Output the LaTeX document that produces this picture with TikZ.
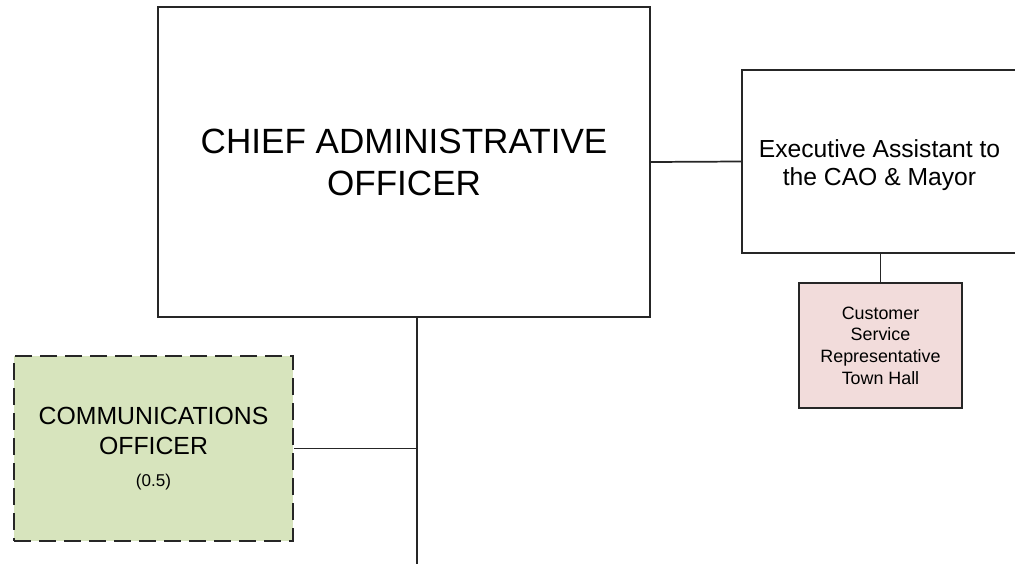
\documentclass[tikz,border=0pt]{standalone}
\usepackage{fontspec}
\setmainfont{Liberation Sans}
\begin{document}
\begin{tikzpicture}[x=0.75pt,y=-0.75pt,
  edge/.style={draw=black!85,line width=1.3pt},
  post/.style={draw=black!85,line width=1.1pt,fill=white,inner sep=0pt,align=center,anchor=center},
  vacant/.style={post,line width=1.5pt,dash pattern=on 12.75pt off 6pt},
]
\useasboundingbox (0,0) rectangle (1015,564);
\definecolor{greenfill}{HTML}{D7E4BD}
\definecolor{pinkfill}{HTML}{F2DCDB}

% boxes
\node[post,minimum width=369pt,minimum height=232.5pt,
      font=\fontsize{26.3}{31.5}\selectfont] (cao) at (404,162)
  {CHIEF ADMINISTRATIVE\\OFFICER};
% extra room above the two lines sets them a little below the box centre
\node[post,minimum width=206.25pt,minimum height=137.25pt,
      font=\fontsize{18.5}{21}\selectfont] (exec) at (879.5,161.5)
  {\raisebox{0pt}[\dimexpr\height+6pt\relax][\depth]{\begin{tabular}{@{}c@{}}Executive Assistant to\\the CAO \& Mayor\end{tabular}}};
\node[post,fill=pinkfill,minimum width=122.25pt,minimum height=93.75pt,
      font=\fontsize{13.4}{16.2}\selectfont] (csr) at (880.5,345.5)
  {Customer\\Service\\Representative\\Town Hall};
\node[vacant,fill=greenfill,minimum width=209.25pt,minimum height=138.75pt,
      font=\fontsize{18.6}{22.5}\selectfont] (comms) at (153.5,448.5)
  {COMMUNICATIONS\\OFFICER\\[2pt]{\fontsize{12.8}{14}\selectfont (0.5)}};

% connectors
\coordinate (trunk) at (417,564);
\draw[edge] (cao.east) -- (exec.west);
\draw[edge] (csr.north) -- (csr.north |- exec.south);
\draw[edge] (trunk |- cao.south) -- (trunk);
\draw[edge] (comms.east) -- (comms.east -| trunk);
\end{tikzpicture}
\end{document}
